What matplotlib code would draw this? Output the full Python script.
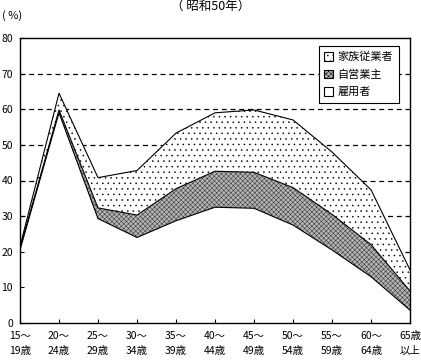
import numpy as np
import matplotlib
matplotlib.use('Agg')
import matplotlib.pyplot as plt
from matplotlib.patches import Patch

plt.rcParams['font.family'] = ['Noto Sans CJK JP', 'DejaVu Sans']
plt.rcParams['hatch.linewidth'] = 0.35

# --- dati (%) ---
eta = ['15～\n19歳', '20～\n24歳', '25～\n29歳', '30～\n34歳', '35～\n39歳',
       '40～\n44歳', '45～\n49歳', '50～\n54歳', '55～\n59歳', '60～\n64歳',
       '65歳\n以上']
koyosha = [20.5, 59.0, 29.3, 24.0, 28.7, 32.5, 32.2, 27.5, 20.5, 13.0, 3.6]   # 雇用者
jiei = [0.5, 0.8, 3.0, 6.3, 9.0, 10.1, 10.1, 10.5, 10.0, 9.0, 5.4]            # 自営業主
kazoku = [0.5, 4.7, 8.5, 12.5, 15.6, 16.4, 17.5, 19.0, 17.5, 15.4, 5.9]       # 家族従業者

x = np.arange(len(eta))
y1 = np.array(koyosha)
y2 = y1 + np.array(jiei)
y3 = y2 + np.array(kazoku)

fig = plt.figure(figsize=(4.21, 3.62), dpi=100)
ax = fig.add_axes([20 / 421, 1 - 323 / 362, 390 / 421, 285 / 362])

# griglia tratteggiata sotto le aree
for g in range(10, 80, 10):
    ax.axhline(g, color='black', lw=0.9, ls=(0, (4, 3)), zorder=0)

col_jiei = '#b4b4b4'
ax.fill_between(x, 0, y1, facecolor='white', edgecolor='none', zorder=1)
ax.fill_between(x, y1, y2, facecolor=col_jiei, hatch='xxxxxxx', edgecolor='#303030',
                lw=0, zorder=2)
ax.fill_between(x, y2, y3, facecolor='white', hatch='...', edgecolor='black',
                lw=0, zorder=2)
for y in (y1, y2, y3):
    ax.plot(x, y, color='black', lw=0.8, zorder=3)

ax.set_xlim(0, len(eta) - 1)
ax.set_ylim(0, 80)
ax.set_yticks(range(0, 90, 10))
ax.set_xticks(x)
ax.set_xticklabels(eta, fontsize=7.5, linespacing=1.6)
ax.tick_params(axis='both', direction='in', length=3, width=0.8, labelsize=7.5)
ax.tick_params(axis='y', pad=5)
ax.tick_params(axis='x', pad=6)
for s in ax.spines.values():
    s.set_linewidth(1.0)
    s.set_zorder(4)

fig.text(2 / 421, 1 - 16 / 362, '( %)', fontsize=8, va='center', ha='left')
fig.text(211 / 421, 1 - 6 / 362, '（ 昭和50年）', fontsize=9, va='center', ha='center')

handles = [
    Patch(facecolor='white', edgecolor='black', hatch='...', lw=0.8),
    Patch(facecolor=col_jiei, edgecolor='black', hatch='xxxxxxx', lw=0.8),
    Patch(facecolor='white', edgecolor='black', lw=0.8),
]
leg = ax.legend(handles, ['家族従業者', '自営業主', '雇用者'], loc='upper right',
                bbox_to_anchor=(0.985, 0.99), fontsize=8, fancybox=False,
                edgecolor='black', framealpha=1, handlelength=0.8,
                handleheight=0.8, handletextpad=0.4, borderpad=0.5,
                labelspacing=0.65)
leg.get_frame().set_linewidth(0.8)
leg.set_zorder(5)

fig.savefig('out.png', dpi=100)
